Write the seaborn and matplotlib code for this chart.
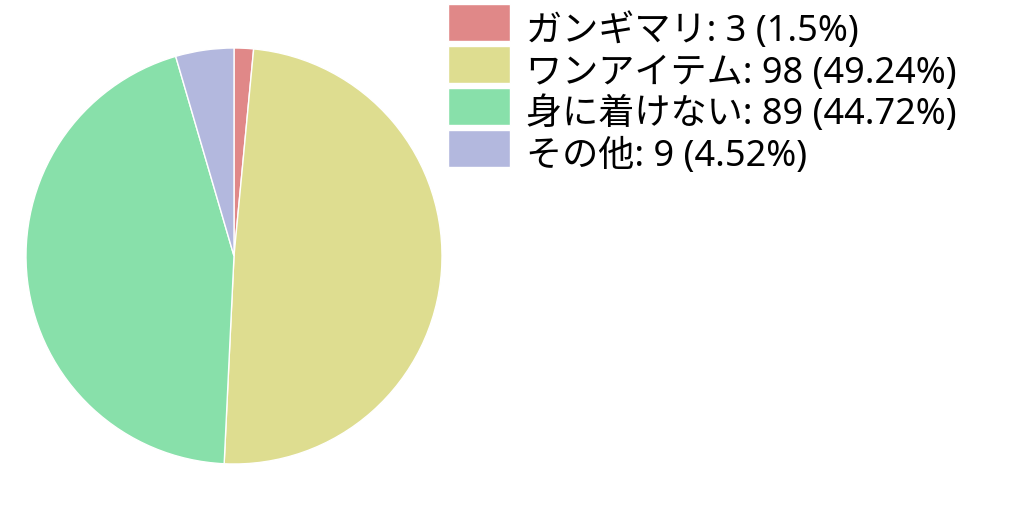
import matplotlib
matplotlib.use("Agg")
import matplotlib.pyplot as plt
import seaborn as sns

# データ
categories = ["ガンギマリ", "ワンアイテム", "身に着けない", "その他"]
counts = [3, 98, 89, 9]
percents = ["1.5", "49.24", "44.72", "4.52"]
colors = ["#e08888", "#dedd90", "#88e0aa", "#b3b8de"]

sns.set_style("white")
plt.rcParams['font.family'] = ['Noto Sans', 'Noto Sans CJK JP', 'DejaVu Sans']
plt.rcParams['text.color'] = 'black'

fig = plt.figure(figsize=(10.24, 5.12), dpi=100)
ax = fig.add_axes([26 / 1024, 48 / 512, 416 / 1024, 416 / 512])

palette = sns.color_palette(colors)
wedges, _ = ax.pie(counts, colors=palette, startangle=90, counterclock=False,
                   wedgeprops={'edgecolor': 'white', 'linewidth': 1})
ax.set_xlim(-1, 1)
ax.set_ylim(-1, 1)
ax.set_aspect('equal')
ax.axis('off')

labels = [f"{c}: {n} ({p}%)" for c, n, p in zip(categories, counts, percents)]
leg = fig.legend(wedges, labels, loc='upper left', bbox_to_anchor=(448 / 1024, 1 - 4 / 512),
                 frameon=False, fontsize=26, borderpad=0, borderaxespad=0, labelcolor='black',
                 handlelength=1.72, handleheight=1.2, labelspacing=0.06, handletextpad=0.45)
# 文字をパッチより少し下げる
for t in leg.get_texts():
    t.set_y(-6)

fig.savefig("out.png", dpi=100)
